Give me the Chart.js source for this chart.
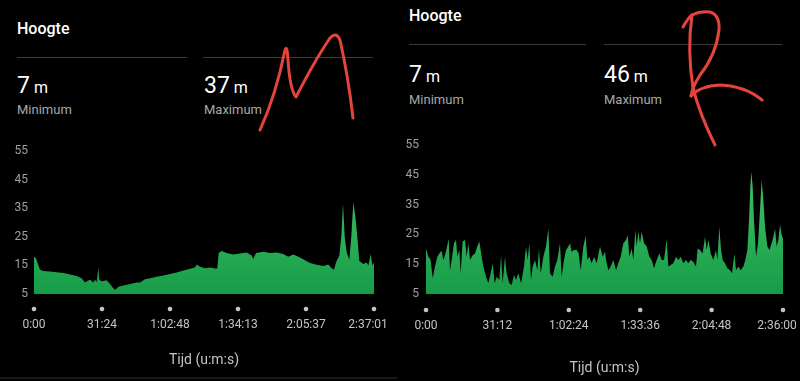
<!DOCTYPE html>
<html>
<head>
<meta charset="utf-8">
<script src="https://cdn.jsdelivr.net/npm/chart.js@4.4.1/dist/chart.umd.min.js"></script>
<style>
  html, body { margin:0; padding:0; background:#000; }
  body { width:800px; height:381px; overflow:hidden; position:relative; font-family: Roboto, "Noto Sans", sans-serif; }
  .t { position:absolute; white-space:nowrap; line-height:1; }
  .title { font-size:16px; font-weight:500; color:#fff; }
  .big { font-size:23px; color:#fff; }
  .big span { font-size:16px; margin-left:4px; }
  .lbl { font-size:13px; color:#a8a8a8; }
  .rule { position:absolute; height:1px; background:#3a3a3a; }
  canvas { position:absolute; }
</style>
</head>
<body>
<!-- left panel header -->
<div class="t title" style="left:17px; top:21px;">Hoogte</div>
<div class="rule" style="left:17px; width:170px; top:57px;"></div>
<div class="rule" style="left:203px; width:170px; top:57px;"></div>
<div class="t big" style="left:17px; top:74px;">7<span>m</span></div>
<div class="t lbl" style="left:17px; top:103px;">Minimum</div>
<div class="t big" style="left:204px; top:74px;">37<span>m</span></div>
<div class="t lbl" style="left:204px; top:103px;">Maximum</div>
<div class="rule" style="left:0px; width:397px; top:377px; height:2px; background:#1a1a1a;"></div>

<!-- right panel header -->
<div class="t title" style="left:409px; top:8px;">Hoogte</div>
<div class="rule" style="left:409px; width:177px; top:44px;"></div>
<div class="rule" style="left:604px; width:178px; top:44px;"></div>
<div class="t big" style="left:409px; top:63px;">7<span>m</span></div>
<div class="t lbl" style="left:409px; top:93px;">Minimum</div>
<div class="t big" style="left:604px; top:63px;">46<span>m</span></div>
<div class="t lbl" style="left:604px; top:93px;">Maximum</div>

<canvas id="c1" width="404" height="246" style="left:0px; top:135px; width:404px; height:246px;"></canvas>
<canvas id="c2" width="420" height="261" style="left:393px; top:120px; width:420px; height:261px;"></canvas>

<svg width="800" height="381" style="position:absolute;left:0;top:0;pointer-events:none" fill="none" stroke="#e4443b" stroke-width="3" stroke-linecap="round" stroke-linejoin="round">
  <path d="M260,130 Q276,95 285,50 Q287,44 288,60 Q290,90 296,97 Q315,60 330,38 Q336,31 340,40 Q348,75 353,118"/>
  <path d="M683,27 Q688,18 692,15 Q687,50 693,88 Q700,115 715,145"/>
  <path d="M692,15 Q700,11 710,12 Q720,15 719,30 Q716,55 700,75 Q692,88 691,96"/>
  <path d="M691,96 Q700,86 720,85 Q745,86 762,100"/>
</svg>

<script>
// ---------- data (time in seconds, altitude in m) ----------
const leftTimes = [0,55,166,258,443,629,812,998,1183,1322,1413,1460,1552,1643,1690,1737,1782,1809,1876,2014,2106,2197,2253,2336,2474,2660,2846,2937,3076,3214,3400,3583,3768,3954,4137,4323,4461,4508,4600,4738,4877,5043,5079,5118,5201,5340,5522,5708,5894,6032,6077,6151,6354,6539,6725,6908,7046,7185,7371,7509,7648,7833,8016,8155,8249,8313,8368,8460,8515,8562,8609,8665,8737,8792,8848,8903,8958,9014,9125,9219,9263,9330,9374,9421];
const leftAlt = [18.0,17.5,13.5,13.0,12.9,12.6,12.3,11.8,11.3,10.5,9.0,9.5,10.0,9.0,10.0,9.2,14.3,10.0,9.5,9.8,8.5,7.0,6.5,7.5,8.0,8.5,9.0,9.0,10.2,10.5,11.0,11.5,12.0,12.5,13.2,13.8,14.3,15.3,14.5,14.0,14.3,13.8,14.0,19.3,20.0,19.3,18.8,19.2,19.5,18.5,17.2,19.3,19.8,19.3,19.5,19.0,18.0,18.8,17.8,16.8,15.8,15.2,14.8,15.3,14.0,13.5,16.0,18.5,25,36.5,25,19.5,17.0,25,37,32,25,16.5,15.5,16.0,15.0,19.0,15.0,16.0];
const leftTotal = 9421;
const leftTickLabels = ['0:00','31:24','1:02:48','1:34:13','2:05:37','2:37:01'];

const rightTimes = [0,61,122,175,236,297,350,411,454,498,542,594,629,673,734,787,821,874,909,961,1023,1066,1110,1154,1224,1285,1346,1398,1460,1503,1573,1634,1696,1748,1800,1853,1923,1967,2010,2071,2115,2185,2246,2307,2360,2421,2491,2570,2622,2666,2709,2753,2797,2858,2919,2963,3007,3077,3146,3208,3251,3321,3382,3444,3513,3557,3618,3671,3732,3776,3819,3881,3951,4003,4056,4125,4187,4230,4283,4344,4405,4475,4562,4632,4693,4720,4781,4842,4912,4982,5043,5104,5174,5244,5288,5332,5393,5436,5489,5524,5567,5611,5655,5716,5786,5856,5917,5978,6048,6118,6179,6240,6310,6354,6415,6485,6555,6616,6677,6747,6817,6878,6939,7009,7079,7123,7184,7254,7315,7359,7403,7464,7534,7604,7639,7691,7735,7779,7840,7901,7971,8023,8085,8128,8189,8251,8321,8373,8426,8469,8504,8530,8565,8600,8653,8705,8757,8801,8845,8889,8950,9002,9063,9107,9151,9194,9238,9282,9325,9360];
const rightAlt = [20.3,17.5,16.4,10.3,14.2,17.5,18.6,19.5,16.4,18.0,20.3,23.5,13.0,16.4,22.0,23.1,17.5,19.8,12.0,22.6,23.1,17.5,22.0,16.4,18.0,18.6,20.9,22.6,17.5,14.2,10.8,8.6,12.0,15.3,8.6,10.8,9.7,18.0,8.6,17.5,12.0,8.6,8.0,11.4,9.7,12.0,8.6,14.2,20.9,16.4,22.2,9.7,14.2,16.4,13.0,20.0,12.0,17.5,20.9,27.0,12.0,10.8,14.2,16.4,22.0,10.8,16.4,19.8,20.9,22.0,19.2,19.8,19.8,18.6,13.0,20.9,24.5,16.4,17.5,15.3,17.5,15.3,20.9,17.5,19.2,16.4,13.0,14.2,16.4,13.0,15.3,17.5,22.0,23.1,24.8,17.5,20.3,16.4,26.5,20.9,25.9,22.0,25.9,22.0,20.9,17.5,16.4,13.6,16.4,18.6,16.4,16.4,23.3,14.2,14.7,15.3,17.5,16.4,17.5,15.3,16.4,15.3,16.4,15.8,14.2,20.3,19.8,18.6,24.2,19.8,23.1,18.6,16.4,19.8,16.4,27.6,19.8,16.4,15.3,13.6,13.0,12.0,18.6,13.0,14.2,13.0,14.2,16.4,19.8,29.8,41.0,46.0,41.0,29.8,17.5,22.0,33.2,43.3,36.5,27.6,20.9,19.8,22.0,24.2,27.0,20.9,23.1,28.2,24.8,23.7];
const rightTotal = 9360;
const rightTickLabels = ['0:00','31:12','1:02:24','1:33:36','2:04:48','2:36:00'];

const yTickValues = [5,15,25,35,45,55];
const axisTitle = 'Tijd (u:m:s)';

// ---------- chart builder ----------
const tickDots = {
  id: 'tickDots',
  afterDraw(chart, args, opts) {
    const ctx = chart.ctx, xs = chart.scales.x, y = chart.chartArea.bottom + opts.offset;
    ctx.save();
    ctx.fillStyle = '#c4c4c4';
    xs.ticks.forEach(t => {
      const x = xs.getPixelForValue(t.value);
      ctx.beginPath(); ctx.arc(x, y, 2.3, 0, Math.PI * 2); ctx.fill();
    });
    ctx.restore();
  }
};

function makeChart(id, times, alts, total, tickLabels, cfg) {
  const ctx = document.getElementById(id);
  const last = tickLabels.length - 1;
  return new Chart(ctx, {
    type: 'line',
    data: {
      datasets: [{
        data: times.map((t, i) => ({ x: t, y: alts[i] })),
        fill: 'start',
        borderWidth: 0,
        pointRadius: 0,
        tension: 0,
        backgroundColor: (c) => {
          const a = c.chart.chartArea;
          if (!a) return '#2aa955';
          const g = c.chart.ctx.createLinearGradient(0, a.top, 0, a.bottom);
          g.addColorStop(0, '#48c46c');
          g.addColorStop(0.55, '#2db259');
          g.addColorStop(1, '#179b48');
          return g;
        }
      }]
    },
    options: {
      responsive: false,
      animation: false,
      events: [],
      layout: { padding: { top: cfg.padTop, right: cfg.padRight, left: 0, bottom: 0 } },
      plugins: { legend: { display: false }, tooltip: { enabled: false }, tickDots: { offset: cfg.dotOffset } },
      scales: {
        x: {
          type: 'linear', min: 0, max: total,
          afterBuildTicks: s => { s.ticks = tickLabels.map((_, i) => ({ value: total * i / last })); },
          afterFit: s => { s.height = cfg.xHeight; },
          ticks: {
            // last label is nudged left (as the app does) so it stays on screen
            callback: (v, i) => i === last ? tickLabels[i] + '\u00a0\u00a0\u00a0\u00a0' : tickLabels[i],
            color: '#c4c4c4', font: { family: 'Roboto', size: 12 }, padding: 2, maxRotation: 0, autoSkip: false
          },
          grid: { display: false, drawTicks: true, tickLength: cfg.xTick },
          border: { display: false },
          title: { display: true, text: axisTitle, color: '#c4c4c4', font: { family: 'Roboto', size: 14 }, padding: { top: 0, bottom: cfg.titlePad } }
        },
        y: {
          min: 5, max: 55,
          afterBuildTicks: s => { s.ticks = yTickValues.map(v => ({ value: v })); },
          afterFit: s => { s.width = cfg.yWidth; },
          ticks: { color: '#a0a0a0', font: { family: 'Roboto', size: 12 }, padding: cfg.yPad },
          grid: { display: false, drawTicks: false },
          border: { display: false }
        }
      }
    },
    plugins: [tickDots]
  });
}

makeChart('c1', leftTimes, leftAlt, leftTotal, leftTickLabels,
  { padTop: 16, padRight: 30, xHeight: 87, yWidth: 34, yPad: 6, xTick: 22, titlePad: 12, dotOffset: 15 });
makeChart('c2', rightTimes, rightAlt, rightTotal, rightTickLabels,
  { padTop: 25, padRight: 30, xHeight: 87, yWidth: 33, yPad: 7, xTick: 23, titlePad: 4, dotOffset: 16 });
</script>
</body>
</html>
